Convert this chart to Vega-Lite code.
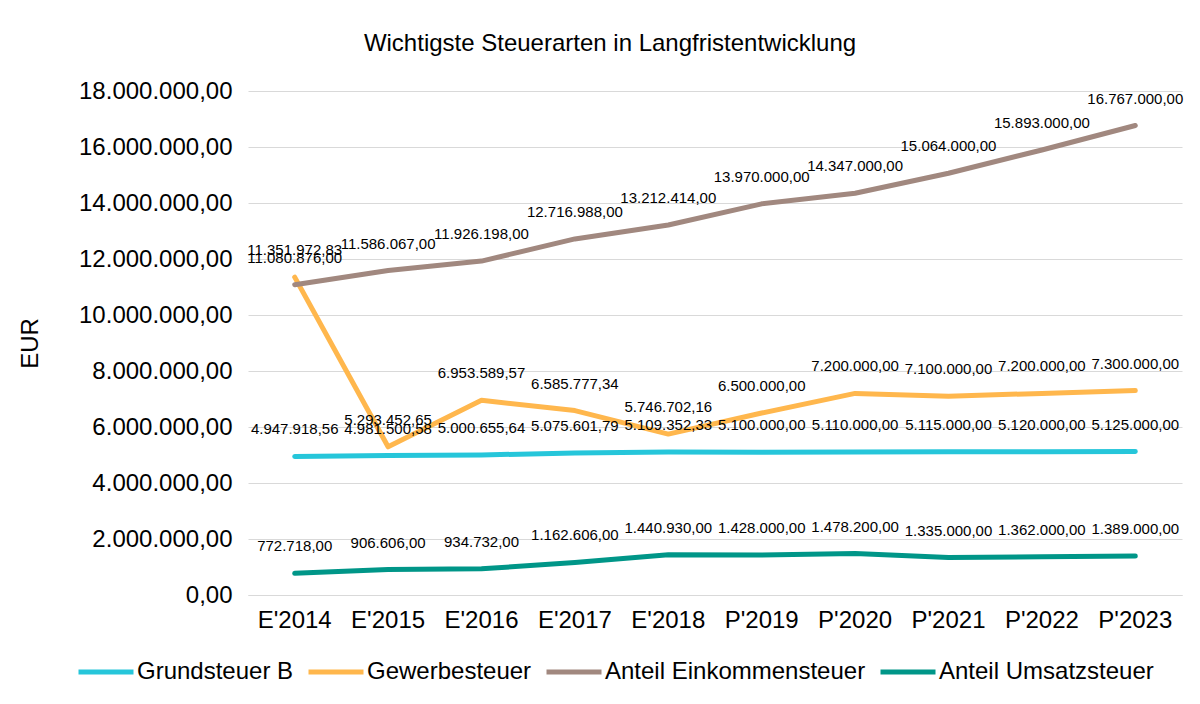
{
  "$schema": "https://vega.github.io/schema/vega-lite/v6.json",
  "autosize": {"type": "none"},
  "width": 934,
  "height": 504,
  "padding": {"left": 248, "top": 91, "right": 18, "bottom": 109},
  "background": "white",
  "title": {
    "text": "Wichtigste Steuerarten in Langfristentwicklung",
    "fontSize": 24,
    "fontWeight": "normal",
    "font": "Liberation Sans",
    "color": "#000000",
    "anchor": "middle",
    "dx": -105,
    "offset": 23
  },
  "config": {
    "locale": {"number": {"decimal": ",", "thousands": ".", "grouping": [3], "currency": ["", " €"]}},
    "font": "Liberation Sans",
    "view": {"stroke": null}
  },
  "data": {
    "values": [
      {"Jahr": "E'2014", "Steuer": "Grundsteuer B", "Wert": 4947918.56},
      {"Jahr": "E'2015", "Steuer": "Grundsteuer B", "Wert": 4981500.58},
      {"Jahr": "E'2016", "Steuer": "Grundsteuer B", "Wert": 5000655.64},
      {"Jahr": "E'2017", "Steuer": "Grundsteuer B", "Wert": 5075601.79},
      {"Jahr": "E'2018", "Steuer": "Grundsteuer B", "Wert": 5109352.33},
      {"Jahr": "P'2019", "Steuer": "Grundsteuer B", "Wert": 5100000},
      {"Jahr": "P'2020", "Steuer": "Grundsteuer B", "Wert": 5110000},
      {"Jahr": "P'2021", "Steuer": "Grundsteuer B", "Wert": 5115000},
      {"Jahr": "P'2022", "Steuer": "Grundsteuer B", "Wert": 5120000},
      {"Jahr": "P'2023", "Steuer": "Grundsteuer B", "Wert": 5125000},
      {"Jahr": "E'2014", "Steuer": "Gewerbesteuer", "Wert": 11351972.83},
      {"Jahr": "E'2015", "Steuer": "Gewerbesteuer", "Wert": 5293452.65},
      {"Jahr": "E'2016", "Steuer": "Gewerbesteuer", "Wert": 6953589.57},
      {"Jahr": "E'2017", "Steuer": "Gewerbesteuer", "Wert": 6585777.34},
      {"Jahr": "E'2018", "Steuer": "Gewerbesteuer", "Wert": 5746702.16},
      {"Jahr": "P'2019", "Steuer": "Gewerbesteuer", "Wert": 6500000},
      {"Jahr": "P'2020", "Steuer": "Gewerbesteuer", "Wert": 7200000},
      {"Jahr": "P'2021", "Steuer": "Gewerbesteuer", "Wert": 7100000},
      {"Jahr": "P'2022", "Steuer": "Gewerbesteuer", "Wert": 7200000},
      {"Jahr": "P'2023", "Steuer": "Gewerbesteuer", "Wert": 7300000},
      {"Jahr": "E'2014", "Steuer": "Anteil Einkommensteuer", "Wert": 11080876},
      {"Jahr": "E'2015", "Steuer": "Anteil Einkommensteuer", "Wert": 11586067},
      {"Jahr": "E'2016", "Steuer": "Anteil Einkommensteuer", "Wert": 11926198},
      {"Jahr": "E'2017", "Steuer": "Anteil Einkommensteuer", "Wert": 12716988},
      {"Jahr": "E'2018", "Steuer": "Anteil Einkommensteuer", "Wert": 13212414},
      {"Jahr": "P'2019", "Steuer": "Anteil Einkommensteuer", "Wert": 13970000},
      {"Jahr": "P'2020", "Steuer": "Anteil Einkommensteuer", "Wert": 14347000},
      {"Jahr": "P'2021", "Steuer": "Anteil Einkommensteuer", "Wert": 15064000},
      {"Jahr": "P'2022", "Steuer": "Anteil Einkommensteuer", "Wert": 15893000},
      {"Jahr": "P'2023", "Steuer": "Anteil Einkommensteuer", "Wert": 16767000},
      {"Jahr": "E'2014", "Steuer": "Anteil Umsatzsteuer", "Wert": 772718},
      {"Jahr": "E'2015", "Steuer": "Anteil Umsatzsteuer", "Wert": 906606},
      {"Jahr": "E'2016", "Steuer": "Anteil Umsatzsteuer", "Wert": 934732},
      {"Jahr": "E'2017", "Steuer": "Anteil Umsatzsteuer", "Wert": 1162606},
      {"Jahr": "E'2018", "Steuer": "Anteil Umsatzsteuer", "Wert": 1440930},
      {"Jahr": "P'2019", "Steuer": "Anteil Umsatzsteuer", "Wert": 1428000},
      {"Jahr": "P'2020", "Steuer": "Anteil Umsatzsteuer", "Wert": 1478200},
      {"Jahr": "P'2021", "Steuer": "Anteil Umsatzsteuer", "Wert": 1335000},
      {"Jahr": "P'2022", "Steuer": "Anteil Umsatzsteuer", "Wert": 1362000},
      {"Jahr": "P'2023", "Steuer": "Anteil Umsatzsteuer", "Wert": 1389000}
    ]
  },
  "encoding": {
    "x": {
      "field": "Jahr",
      "type": "nominal",
      "sort": null,
      "scale": {"type": "band", "paddingInner": 0, "paddingOuter": 0},
      "axis": {
        "title": null,
        "labelAngle": 0,
        "labelFontSize": 24,
        "labelColor": "#000000",
        "labelPadding": 13,
        "ticks": false,
        "domain": true,
        "domainColor": "#D9D9D9",
        "domainWidth": 1,
        "grid": false
      }
    },
    "y": {
      "field": "Wert",
      "type": "quantitative",
      "scale": {"domain": [0, 18000000], "nice": false, "zero": true},
      "axis": {
        "title": "EUR",
        "titleFontSize": 24,
        "titleFontWeight": "normal",
        "titleColor": "#000000",
        "titleX": -218,
        "titleY": 252,
        "titleAngle": 270,
        "titleAlign": "center",
        "titleBaseline": "middle",
        "values": [0, 2000000, 4000000, 6000000, 8000000, 10000000, 12000000, 14000000, 16000000, 18000000],
        "format": ",.2f",
        "labelFontSize": 24,
        "labelColor": "#000000",
        "labelPadding": 16,
        "ticks": false,
        "domain": false,
        "grid": true,
        "gridColor": "#D9D9D9",
        "gridWidth": 1
      }
    }
  },
  "layer": [
    {
      "mark": {"type": "line", "strokeWidth": 5, "strokeCap": "round", "strokeJoin": "round"},
      "encoding": {
        "color": {
          "field": "Steuer",
          "type": "nominal",
          "scale": {
            "domain": ["Grundsteuer B", "Gewerbesteuer", "Anteil Einkommensteuer", "Anteil Umsatzsteuer"],
            "range": ["#26C6DA", "#FFB74D", "#A1887F", "#009688"]
          },
          "legend": {
            "title": null,
            "orient": "none",
            "direction": "horizontal",
            "legendX": -172,
            "legendY": 551,
            "gridAlign": "none",
            "symbolType": "stroke",
            "symbolSize": 3025,
            "symbolStrokeWidth": 5,
            "labelFontSize": 24,
            "labelColor": "#000000",
            "labelLimit": 400,
            "labelOffset": 1,
            "columnPadding": 4
          }
        }
      }
    },
    {
      "mark": {"type": "text", "fontSize": 15, "color": "#000000", "baseline": "middle", "align": "center", "dy": -27},
      "encoding": {
        "text": {"field": "Wert", "type": "quantitative", "format": ",.2f"}
      }
    }
  ]
}
